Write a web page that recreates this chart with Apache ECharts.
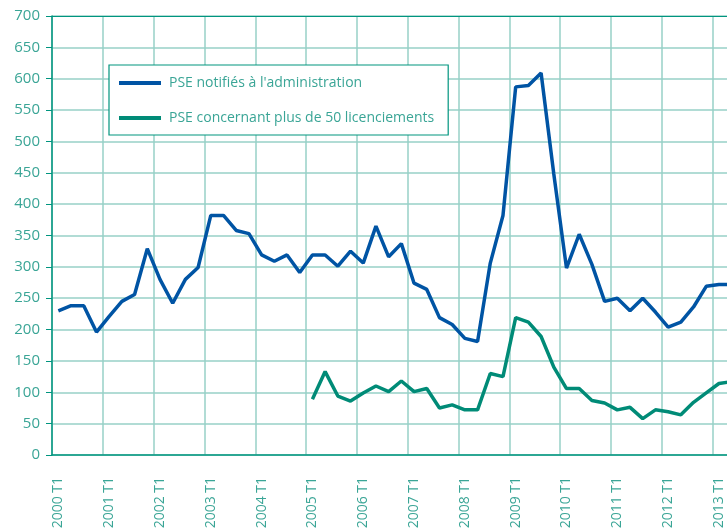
<!DOCTYPE html>
<html>
<head>
<meta charset="utf-8">
<script src="https://cdn.jsdelivr.net/npm/echarts@6/dist/echarts.min.js"></script>
<style>
  html, body { margin: 0; padding: 0; background: #fff; overflow: hidden; }
  /* le graphique est plus large que la fenêtre : la fin est rognée comme dans l'original */
  #chart { width: 738px; height: 532px; }
</style>
</head>
<body>
<div id="chart"></div>
<script>
    // trimestres 2000 T1 .. 2013 T2
    var quarters = [];
    for (var y = 2000; y <= 2013; y++) {
        for (var q = 1; q <= 4; q++) {
            if (y === 2013 && q > 2) break;
            quarters.push(y + ' T' + q);
        }
    }

    var pseNotifies = [
        230, 238, 238, 196, 221, 245, 256, 329, 280, 242, 280, 299,
        382, 382, 358, 353, 319, 309, 319, 291, 319, 319, 301, 325,
        306, 365, 316, 337, 274, 264, 219, 208, 186, 181, 306, 382,
        587, 589, 609, 448, 298, 352, 304, 245, 250, 230, 250, 228,
        204, 212, 236, 269, 272, 272
    ];

    var pse50 = [
        null, null, null, null, null, null, null, null, null, null, null, null,
        null, null, null, null, null, null, null, null, 89, 133, 94, 86,
        99, 110, 101, 118, 101, 106, 75, 80, 72, 72, 130, 125,
        219, 212, 189, 140, 106, 106, 87, 83, 72, 76, 58, 72,
        69, 64, 84, 99, 114, 117
    ];

    var yTicks = [0, 700, 50];

    var teal = '#3aa596';
    var gridCol = '#97d0c7';
    var axisCol = '#00957f';
    var font = '"Open Sans", sans-serif';

    var myChart = echarts.init(document.getElementById('chart'));

    var option = {
        animation: false,
        textStyle: { fontFamily: font },
        grid: { left: 52, top: 16, bottom: 77, right: 0, containLabel: false },
        legend: {
            data: ['PSE notifiés à l\'administration', 'PSE concernant plus de 50 licenciements'],
            orient: 'vertical',
            left: 109,
            top: 65,
            padding: [11, 14, 10, 10],
            itemGap: 21,
            itemWidth: 42,
            itemHeight: 4,
            icon: 'rect',
            borderColor: axisCol,
            borderWidth: 1.2,
            backgroundColor: '#fff',
            textStyle: { color: teal, fontSize: 14, fontFamily: font, padding: [0, 0, 0, 3] }
        },
        xAxis: [
            {
                type: 'category',
                data: quarters,
                boundaryGap: true,
                axisLine: { lineStyle: { color: axisCol, width: 1.5 } },
                axisTick: { interval: 3, length: 7, lineStyle: { color: gridCol, width: 1.5 } },
                splitLine: { show: true, interval: 3, lineStyle: { color: gridCol, width: 1.5 } },
                axisLabel: {
                    interval: 3,
                    rotate: 90,
                    margin: 22,
                    color: teal,
                    fontSize: 14,
                    fontFamily: font
                }
            },
            {
                type: 'category',
                data: quarters,
                position: 'top',
                boundaryGap: true,
                axisLine: { lineStyle: { color: axisCol, width: 1 } },
                axisTick: { show: false },
                axisLabel: { show: false },
                splitLine: { show: false }
            }
        ],
        yAxis: {
            type: 'value',
            min: yTicks[0],
            max: yTicks[1],
            interval: yTicks[2],
            axisLine: { show: true, lineStyle: { color: axisCol, width: 1.5 } },
            axisTick: { show: true, length: 6, lineStyle: { color: axisCol } },
            splitLine: { lineStyle: { color: gridCol, width: 1.5 } },
            axisLabel: { color: teal, fontSize: 15, margin: 12, fontFamily: font }
        },
        series: [
            {
                name: 'PSE notifiés à l\'administration',
                type: 'line',
                data: pseNotifies,
                symbol: 'none',
                itemStyle: { color: '#0054a4' },
                lineStyle: { color: '#0054a4', width: 3.5 }
            },
            {
                name: 'PSE concernant plus de 50 licenciements',
                type: 'line',
                data: pse50,
                symbol: 'none',
                itemStyle: { color: '#008b77' },
                lineStyle: { color: '#008b77', width: 3.5 }
            }
        ]
    };

    myChart.setOption(option);
</script>
</body>
</html>
